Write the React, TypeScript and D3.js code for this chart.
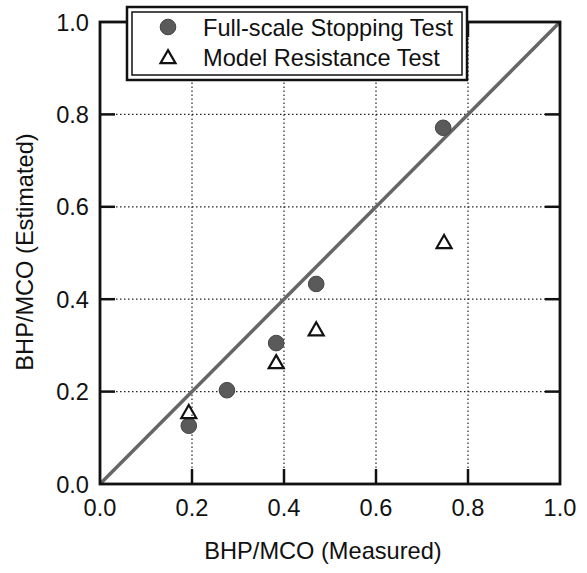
import React from "react";
import * as d3 from "d3";

// Full-scale stopping test results (measured vs estimated BHP/MCO)
const fullScaleMeasured = [0.193, 0.276, 0.383, 0.47, 0.746];
const fullScaleEstimated = [0.126, 0.203, 0.305, 0.433, 0.771];

// Model resistance test results
const modelMeasured = [0.193, 0.383, 0.47, 0.748];
const modelEstimated = [0.154, 0.262, 0.333, 0.522];

const tickValues = [0, 0.2, 0.4, 0.6, 0.8, 1.0];
const gridValues = [0.2, 0.4, 0.6, 0.8];
const legendLabels = ["Full-scale Stopping Test", "Model Resistance Test"];

const W = 587;
const H = 573;
const FONT = "'Liberation Sans', Arial, Helvetica, sans-serif";
const FS = 23.6;

export default function App() {
  const x = d3.scaleLinear().domain([0, 1]).range([100, 560]);
  const y = d3.scaleLinear().domain([0, 1]).range([484, 22]);
  const fmt = d3.format(".1f");
  const tickLen = 15;

  const tri = (cx: number, cy: number, s = 15) => {
    const h = s * 0.87;
    return `M${cx},${cy - h * 0.6}L${cx + s / 2},${cy + h * 0.4}L${cx - s / 2},${cy + h * 0.4}Z`;
  };

  const diag = d3.line<[number, number]>().x((d) => x(d[0])).y((d) => y(d[1]));

  return (
    <svg width={W} height={H} style={{ position: "absolute", left: 0, top: 0, background: "#fff" }}>
      <rect width={W} height={H} fill="#fff" />
      {/* dotted grid */}
      {gridValues.map((v) => (
        <g key={"g" + v} stroke="#222" strokeWidth={1.2} strokeDasharray="1.5,2.5">
          <line x1={x(v)} x2={x(v)} y1={y(0)} y2={y(1)} />
          <line x1={x(0)} x2={x(1)} y1={y(v)} y2={y(v)} />
        </g>
      ))}
      {/* inward ticks on all four sides */}
      {gridValues.map((v) => (
        <g key={"t" + v} stroke="#111" strokeWidth={2.5}>
          <line x1={x(v)} x2={x(v)} y1={y(0)} y2={y(0) - tickLen} />
          <line x1={x(v)} x2={x(v)} y1={y(1)} y2={y(1) + tickLen} />
          <line x1={x(0)} x2={x(0) + tickLen} y1={y(v)} y2={y(v)} />
          <line x1={x(1)} x2={x(1) - tickLen} y1={y(v)} y2={y(v)} />
        </g>
      ))}
      {/* 1:1 line */}
      <path d={diag([[0, 0], [1, 1]]) ?? ""} stroke="#666" strokeWidth={3.5} fill="none" />
      {/* frame */}
      <rect x={x(0)} y={y(1)} width={x(1) - x(0)} height={y(0) - y(1)} fill="none" stroke="#111" strokeWidth={2.8} />
      {/* data */}
      {fullScaleMeasured.map((m, i) => (
        <circle key={"c" + i} cx={x(m)} cy={y(fullScaleEstimated[i])} r={7.8} fill="#5a5a5a" stroke="#444" strokeWidth={1} />
      ))}
      {modelMeasured.map((m, i) => (
        <path key={"m" + i} d={tri(x(m), y(modelEstimated[i]))} fill="none" stroke="#111" strokeWidth={2.2} strokeLinejoin="miter" />
      ))}
      {/* tick labels */}
      {tickValues.map((v) => (
        <text key={"xl" + v} x={x(v)} y={516} textAnchor="middle" fontFamily={FONT} fontSize={FS} fill="#111">
          {fmt(v)}
        </text>
      ))}
      {tickValues.map((v) => (
        <text key={"yl" + v} x={89} y={y(v) + 8.5} textAnchor="end" fontFamily={FONT} fontSize={FS} fill="#111">
          {fmt(v)}
        </text>
      ))}
      {/* axis titles */}
      <text x={323} y={559} textAnchor="middle" fontFamily={FONT} fontSize={FS} fill="#111">
        BHP/MCO (Measured)
      </text>
      <text transform={`translate(33,252) rotate(-90)`} textAnchor="middle" fontFamily={FONT} fontSize={FS} fill="#111">
        BHP/MCO (Estimated)
      </text>
      {/* legend */}
      <g>
        <rect x={127} y={7} width={340} height={73} fill="#fff" stroke="#111" strokeWidth={2.5} />
        <rect x={132} y={12} width={330} height={63} fill="none" stroke="#111" strokeWidth={1.5} />
        <circle cx={168} cy={27} r={7.8} fill="#5a5a5a" stroke="#444" strokeWidth={1} />
        <path d={tri(168, 58)} fill="none" stroke="#111" strokeWidth={2.2} />
        {legendLabels.map((l, i) => (
          <text key={l} x={203} y={35.5 + i * 30} fontFamily={FONT} fontSize={FS} fill="#111">
            {l}
          </text>
        ))}
      </g>
    </svg>
  );
}
